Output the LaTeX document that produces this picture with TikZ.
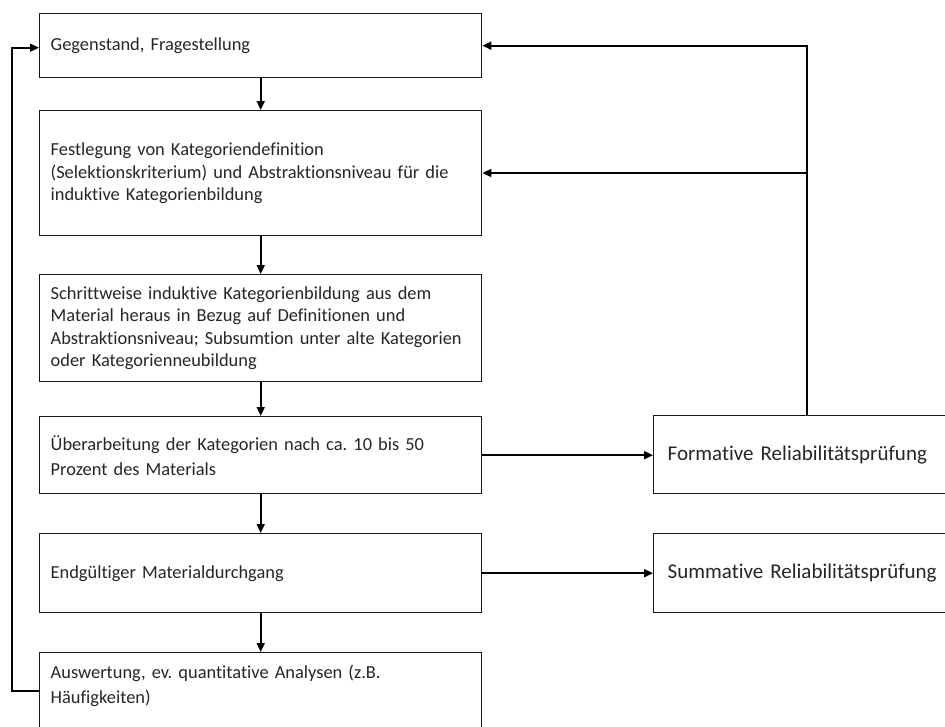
\documentclass[tikz,border=0pt]{standalone}
\usepackage{fontspec}
\setmainfont[RawFeature=-liga]{Carlito}
\frenchspacing
\usetikzlibrary{arrows.meta,calc}
\begin{document}
\begin{tikzpicture}[x=1pt,y=-1pt,
  box/.style={draw=black!90, line width=1.4pt, rectangle, inner xsep=11pt, inner ysep=0pt,
    align=left, font=\fontsize{18.4}{22.5}\selectfont, text=black!85, anchor=north west},
  rbox/.style={box, inner xsep=14pt, font=\fontsize{21}{25}\selectfont},
  conn/.style={line width=1.8pt, -{Triangle[length=9pt,width=8pt]}},
  plain/.style={line width=1.8pt}]
\useasboundingbox[fill=white] (0,0) rectangle (945,726);
\clip (0,0) rectangle (945,726);
% left column
\node[box, minimum width=442pt, minimum height=64pt, text width=420pt] (b1) at (39,13) {Gegenstand, Fragestellung};
\node[box, minimum width=442pt, minimum height=125pt, text width=420pt] (b2) at (39,110)
  {Festlegung von Kategoriendefinition\\(Selektionskriterium) und Abstraktionsniveau für die\\induktive Kategorienbildung};
\node[box, minimum width=442pt, minimum height=107pt, text width=420pt] (b3) at (39,274)
  {Schrittweise induktive Kategorienbildung aus dem\\Material heraus in Bezug auf Definitionen und\\Abstraktionsniveau; Subsumtion unter alte Kategorien\\oder Kategorienneubildung};
\node[box, minimum width=442pt, minimum height=77pt, text width=420pt, font=\fontsize{18.4}{25}\selectfont] (b4) at (39,416)
  {Überarbeitung der Kategorien nach ca. 10 bis 50\\Prozent des Materials};
\node[box, minimum width=442pt, minimum height=79pt, text width=420pt] (b5) at (39,533)
  {Endgültiger Materialdurchgang};
\node[box, minimum width=442pt, minimum height=95pt, text width=420pt, font=\fontsize{18.4}{25}\selectfont] (b6) at (39,652)
  {Auswertung, ev. quantitative Analysen (z.B.\\Häufigkeiten)\\\strut};
% right column
\node[rbox, minimum width=310pt, minimum height=78pt, text width=282pt] (f) at (653,415)
  {Formative Reliabilitätsprüfung};
\node[rbox, minimum width=310pt, minimum height=79pt, text width=282pt] (s) at (653,533)
  {Summative Reliabilitätsprüfung\\[4pt]};
% vertical flow
\draw[conn] (b1.south) -- (b2.north);
\draw[conn] (b2.south) -- (b3.north);
\draw[conn] (b3.south) -- (b4.north);
\draw[conn] (b4.south) -- (b5.north);
\draw[conn] (b5.south) -- (b6.north);
% to the checks
\draw[conn] (b4.east) -- (b4.east -| f.west);
\draw[conn] (b5.east) -- (b5.east -| s.west);
% feedback from formative check
\coordinate (fb) at (807,415);
\coordinate (fb2) at (807,173);
\draw[conn] (fb) |- (b1.east);
\draw[conn] (fb2) -- (b2.east |- fb2);
% loop from the end back to the start
\coordinate (lp) at (39,691);
\coordinate (lx) at (12,691);
\draw[conn] (lp) -- (lx) |- ($(b1.west)+(0,2)$);
\end{tikzpicture}
\end{document}
